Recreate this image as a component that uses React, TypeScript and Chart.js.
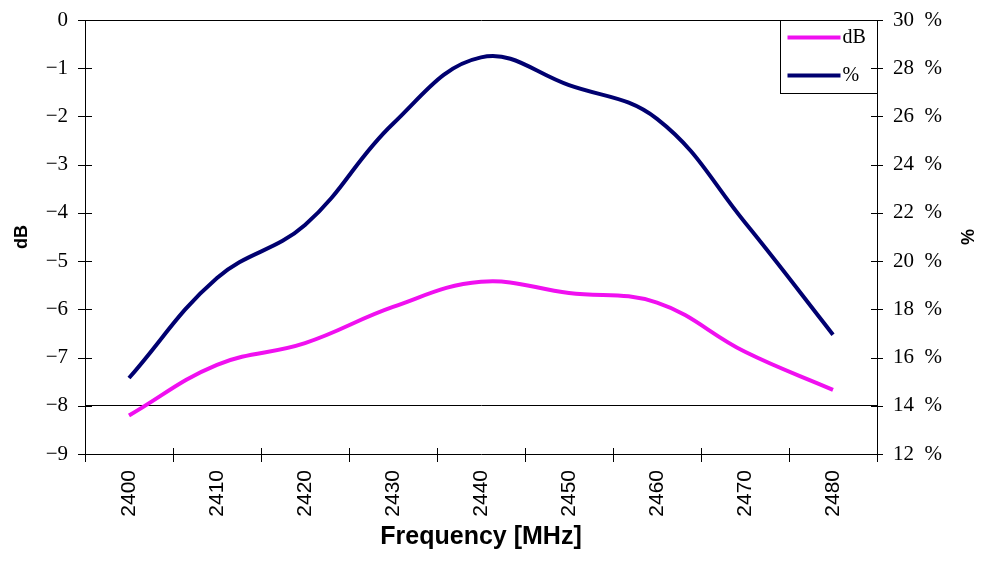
import React, { useEffect, useRef } from "react";
import { Chart, registerables } from "chart.js";

Chart.register(...registerables);

const frequencies = ["2400", "2410", "2420", "2430", "2440", "2450", "2460", "2470", "2480"];
const dbValues = [-8.2, -7.15, -6.7, -5.95, -5.43, -5.66, -5.86, -6.88, -7.67];
const pctValues = [15.15, 19.3, 21.5, 25.7, 28.45, 27.3, 25.9, 21.6, 16.95];
const dbTicks = { min: -9, max: 0, step: 1 };
const pctTicks = { min: 12, max: 30, step: 2 };

const PINK = "#F010F0";
const NAVY = "#000070";
const SERIF = "'Liberation Serif', 'Times New Roman', serif";
const SANS = "'Liberation Sans', Arial, sans-serif";

const crossTicks = {
  id: "crossTicks",
  afterDraw(chart: any) {
    const { ctx, scales, chartArea } = chart;
    ctx.save();
    ctx.strokeStyle = "#000";
    ctx.lineWidth = 1;
    const line = (x1: number, y1: number, x2: number, y2: number) => {
      ctx.beginPath();
      ctx.moveTo(x1, y1);
      ctx.lineTo(x2, y2);
      ctx.stroke();
    };
    const left = Math.round(chartArea.left);
    const right = Math.round(chartArea.right);
    const bottom = Math.round(chartArea.bottom);
    scales.y.ticks.forEach((t: any) => {
      const py = Math.round(scales.y.getPixelForValue(t.value)) + 0.5;
      line(left - 7, py, left + 7, py);
    });
    scales.y1.ticks.forEach((t: any) => {
      const py = Math.round(scales.y1.getPixelForValue(t.value)) + 0.5;
      line(right - 6, py, right + 6, py);
    });
    for (let i = 0; i <= frequencies.length; i++) {
      const px = Math.round(scales.x.getPixelForValue(i - 0.5)) + 0.5;
      line(px, bottom - 6, px, bottom + 8);
    }
    ctx.restore();
  },
};

const insideLegend = {
  id: "insideLegend",
  afterDatasetsDraw(chart: any) {
    const { ctx, chartArea } = chart;
    const right = Math.round(chartArea.right) + 0.5;
    const top = Math.round(chartArea.top) + 0.5;
    const w = 97;
    const h = 73;
    const left = right - w;
    ctx.save();
    ctx.fillStyle = "#fff";
    ctx.fillRect(left, top, w, h);
    ctx.strokeStyle = "#000";
    ctx.lineWidth = 1;
    ctx.strokeRect(left, top, w, h);
    const rows = [17, 55];
    chart.data.datasets.forEach((ds: any, i: number) => {
      const y = top + rows[i];
      ctx.strokeStyle = ds.borderColor;
      ctx.lineWidth = 4;
      ctx.lineCap = "butt";
      ctx.beginPath();
      ctx.moveTo(left + 7, y);
      ctx.lineTo(left + 60, y);
      ctx.stroke();
      ctx.fillStyle = "#000";
      ctx.font = `20px ${SERIF}`;
      ctx.textBaseline = "middle";
      ctx.textAlign = "left";
      ctx.fillText(ds.label, left + 62, y);
    });
    ctx.restore();
  },
};

export default function App() {
  const ref = useRef<HTMLCanvasElement>(null);

  useEffect(() => {
    document.body.style.margin = "0";
    const canvas = ref.current;
    if (!canvas) return;
    const chart = new Chart(canvas, {
      type: "line",
      data: {
        labels: frequencies,
        datasets: [
          {
            label: "dB",
            data: dbValues,
            yAxisID: "y",
            borderColor: PINK,
            backgroundColor: PINK,
            borderWidth: 4,
            pointRadius: 0,
            tension: 0.4,
          },
          {
            label: "%",
            data: pctValues,
            yAxisID: "y1",
            borderColor: NAVY,
            backgroundColor: NAVY,
            borderWidth: 4,
            pointRadius: 0,
            tension: 0.4,
          },
        ],
      },
      options: {
        responsive: false,
        animation: false,
        layout: { padding: { top: 20, left: 0, right: 0, bottom: 0 } },
        plugins: {
          legend: { display: false },
          tooltip: { enabled: false },
        },
        scales: {
          x: {
            type: "category",
            offset: true,
            grid: { display: true, offset: true, color: "transparent", drawOnChartArea: false, drawTicks: false },
            border: { display: true, color: "#000", width: 1 },
            ticks: {
              color: "#000",
              font: { family: SANS, size: 21 },
              minRotation: 90,
              maxRotation: 90,
              padding: 16,
              autoSkip: false,
            },
            title: {
              display: true,
              text: "Frequency [MHz]",
              color: "#000",
              font: { family: SANS, size: 25, weight: "bold" },
              padding: { top: 0, bottom: 9 },
            },
            afterFit(scale: any) {
              scale.height = 107;
            },
          },
          y: {
            position: "left",
            min: dbTicks.min,
            max: dbTicks.max,
            grid: {
              drawTicks: true,
              tickLength: 17,
              tickColor: "transparent",
              color: (c: any) => (c.tick && (c.tick.value === -8 || c.tick.value === 0) ? "#000" : "transparent"),
            },
            border: { display: true, color: "#000", width: 1 },
            ticks: {
              stepSize: dbTicks.step,
              color: "#000",
              padding: 0,
              font: { family: SERIF, size: 21 },
              callback: (v: any) => (Number(v) < 0 ? "\u2212" + Math.abs(Number(v)) : String(v)),
            },
            title: {
              display: true,
              text: "dB",
              color: "#000",
              font: { family: SANS, size: 18, weight: "bold" },
              padding: { top: 11, bottom: 0 },
            },
            afterFit(scale: any) {
              scale.width = 85;
            },
          },
          y1: {
            position: "right",
            min: pctTicks.min,
            max: pctTicks.max,
            grid: { drawOnChartArea: false, drawTicks: true, tickLength: 16, tickColor: "transparent" },
            border: { display: true, color: "#000", width: 1 },
            ticks: {
              stepSize: pctTicks.step,
              color: "#000",
              padding: 0,
              font: { family: SERIF, size: 21 },
              callback: (v: any) => `${v}\u2002%`,
            },
            title: {
              display: true,
              text: "%",
              color: "#000",
              font: { family: SANS, size: 18, weight: "bold" },
              padding: { top: 7, bottom: 0 },
            },
            afterFit(scale: any) {
              scale.width = 107;
            },
          },
        },
      },
      plugins: [crossTicks, insideLegend],
    });
    return () => chart.destroy();
  }, []);

  return <canvas ref={ref} width={984} height={561} style={{ display: "block" }} />;
}
